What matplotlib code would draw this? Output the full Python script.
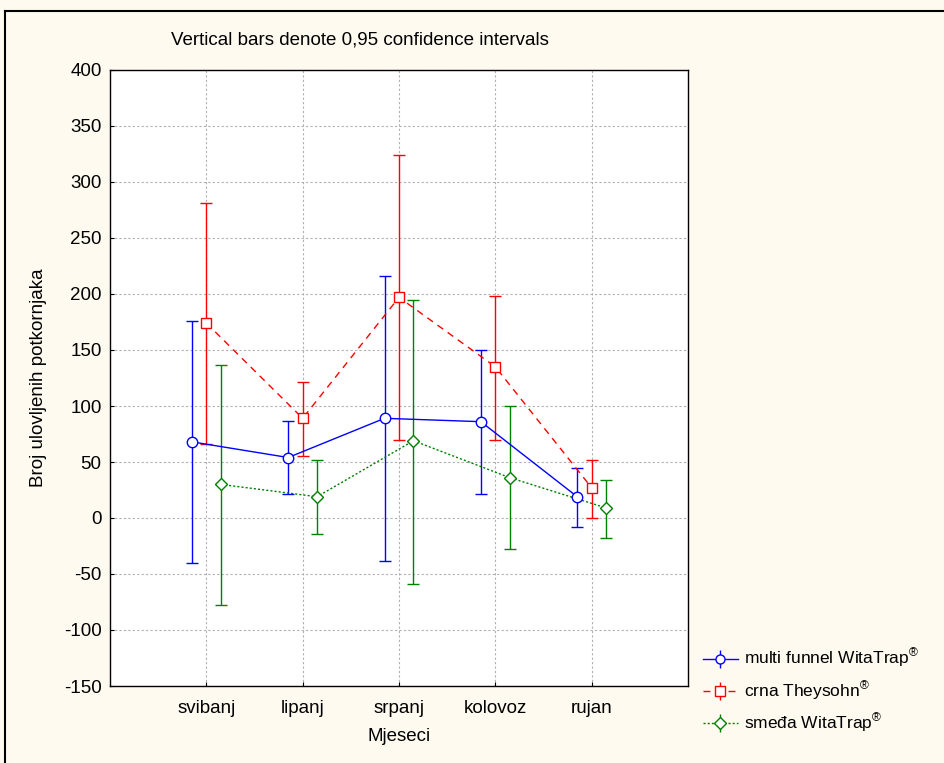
import numpy as np
import matplotlib
matplotlib.use("Agg")
from matplotlib import pyplot as plt
from matplotlib.lines import Line2D

plt.rcParams['font.family'] = ['Liberation Sans', 'DejaVu Sans']
plt.rcParams['mathtext.fontset'] = 'custom'
plt.rcParams['mathtext.rm'] = 'Liberation Sans'
plt.rcParams['axes.unicode_minus'] = False

months = ['svibanj', 'lipanj', 'srpanj', 'kolovoz', 'rujan']

# means and 95% CI bounds
multi_mean = [68, 54, 89, 86, 19]
multi_low = [-40, 21, -38, 21, -8]
multi_high = [176, 87, 216, 150, 45]

crna_mean = [174, 89, 197, 135, 27]
crna_low = [66, 55, 70, 70, 0]
crna_high = [281, 121, 324, 198, 52]

smeda_mean = [30, 19, 69, 36, 9]
smeda_low = [-78, -14, -59, -28, -18]
smeda_high = [137, 52, 195, 100, 34]

series = [
    ('multi funnel WitaTrap$^{®}$', multi_mean, multi_low, multi_high, '#0000ff', '-', 'o', -0.15),
    ('crna Theysohn$^{®}$', crna_mean, crna_low, crna_high, '#ff0000', (0, (5, 4)), 's', 0.0),
    ('smeđa WitaTrap$^{®}$', smeda_mean, smeda_low, smeda_high, '#008000', (0, (1.5, 1.5)), 'D', 0.15),
]

FS = 13.5

fig = plt.figure(figsize=(9.44, 7.63), dpi=100, facecolor='#fffaf0')
ax = fig.add_axes([110 / 944, 1 - 686 / 763, 578 / 944, 616 / 763])
ax.set_facecolor('white')

x = np.arange(1, len(months) + 1)
handles = []
for name, m, lo, hi, col, ls, mk, off in series:
    m = np.array(m)
    err = [m - np.array(lo), np.array(hi) - m]
    ax.errorbar(x + off, m, yerr=err, fmt='none', ecolor=col, elinewidth=1.0,
                capsize=4, capthick=1.0, zorder=3)
    ax.plot(x + off, m, color=col, linestyle=ls, linewidth=1.0, zorder=4)
    ax.plot(x + off, m, linestyle='none', marker=mk, markersize=7.5 if mk != 'D' else 6.5,
            markerfacecolor='white', markeredgecolor=col, markeredgewidth=1.0, zorder=5)
    h = ax.errorbar([], [], yerr=[], color=col, linestyle=ls, linewidth=1.0, marker=mk,
                    markersize=6.5, markerfacecolor='white', markeredgecolor=col,
                    capsize=6, capthick=1.0, elinewidth=1.0)
    handles.append((h, name))

ax.set_xlim(0, 6)
ax.set_ylim(-150, 400)
ax.set_xticks(x)
ax.set_xticklabels(months)
ax.set_yticks(np.arange(-150, 401, 50))
ax.tick_params(axis='both', labelsize=FS, direction='in', length=3, width=0.8)
ax.tick_params(axis='y', pad=6)
ax.tick_params(axis='x', pad=10)
ax.grid(True, color='#b0b0b0', linestyle=(0, (2, 2)), linewidth=0.8)
ax.set_axisbelow(True)
for s in ax.spines.values():
    s.set_linewidth(1.0)

ax.set_xlabel('Mjeseci', fontsize=FS, labelpad=8)
ax.set_ylabel('Broj ulovljenih potkornjaka', fontsize=FS, labelpad=12)
fig.text(360 / 944, 1 - 40 / 763, 'Vertical bars denote 0,95 confidence intervals',
         ha='center', va='center', fontsize=FS)

leg = fig.legend([h for h, _ in handles], [n for _, n in handles],
                 loc='upper left', bbox_to_anchor=(703 / 944, 1 - 647 / 763),
                 frameon=False, fontsize=12.5, handlelength=2.0, handletextpad=0.35,
                 labelspacing=0.5, borderaxespad=0, borderpad=0)

# outer frame (left and top visible)
fig.add_artist(Line2D([5 / 944, 5 / 944], [0, 1 - 11 / 763], color='black', linewidth=1.5,
                      transform=fig.transFigure))
fig.add_artist(Line2D([5 / 944, 1], [1 - 11 / 763, 1 - 11 / 763], color='black', linewidth=1.5,
                      transform=fig.transFigure))

fig.savefig('out.png', dpi=100, facecolor=fig.get_facecolor())
